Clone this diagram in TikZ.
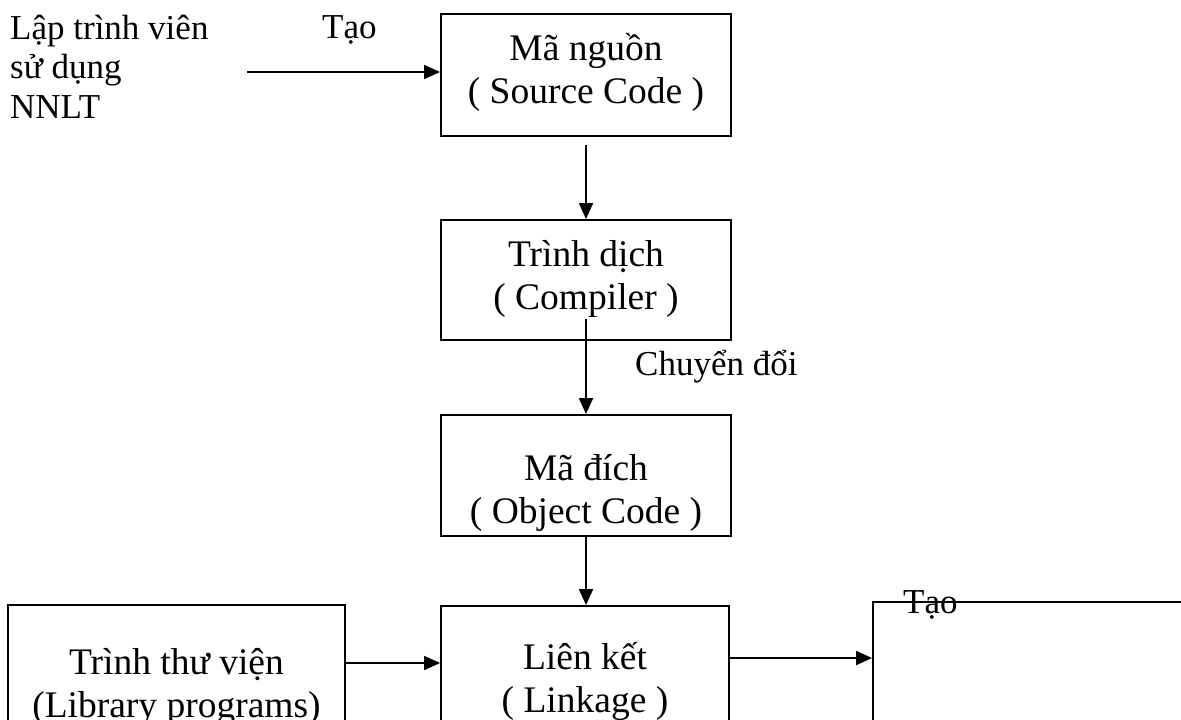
\documentclass[tikz,border=0pt]{standalone}
\usepackage{fontspec}
\setmainfont{Liberation Serif}
\usetikzlibrary{arrows.meta}
\tikzset{
    box/.style = {draw, line width = 1.8pt, align = center, inner sep = 0pt,
        font = \fontsize{37.5}{43}\selectfont},
    lbl/.style = {inner sep = 0pt, font = \fontsize{35}{39.5}\selectfont},
    arr/.style = {-{Triangle[length = 16pt, width = 14pt]}, line width = 1.8pt}
}
\begin{document}
\begin{tikzpicture}[x = 1pt, y = -1pt]
        \clip (0, 0) rectangle (1181, 720);
        % the chain of boxes
        \node [box, minimum width = 290pt, minimum height = 122pt, text height = 60pt, text depth = 4pt] (src) at (586, 75) {Mã nguồn\\( Source Code )};
        \node [box, minimum width = 290pt, minimum height = 120pt, text height = 62pt, text depth = 4pt] (comp) at (586, 280) {Trình dịch\\( Compiler )};
        \node [box, minimum width = 290pt, minimum height = 121pt, text height = 100pt, text depth = 4pt] (obj) at (586, 475.5) {Mã đích\\( Object Code )};
        \node [box, minimum width = 288pt, minimum height = 150pt, text height = 66pt, text depth = 4pt] (link) at (585, 681) {Liên kết\\( Linkage )};
        \node [box, minimum width = 337pt, minimum height = 150pt, text height = 78pt, text depth = 4pt] (lib) at (176.5, 680) {Trình thư viện\\(Library programs)};
        \node [box, minimum width = 400pt, minimum height = 150pt] (out) at (1073, 677) {};
        % free texts
        \node [lbl, anchor = base west, align = left] (dev) at (10, 118) {Lập trình viên\\sử dụng\\NNLT};
        \node [lbl, anchor = base west] (create) at (322, 38) {Tạo};
        \node [lbl, anchor = base west] (convert) at (635, 375) {Chuyển đổi};
        \node [lbl, anchor = base west] (create2) at (903, 613) {Tạo};
        % arrows
        \coordinate (start) at (247, 72);
        \draw [arr] (start) -- (start -| src.west);
        \draw [arr] ([yshift = -8pt] src.south) -- (comp.north);
        \draw [arr] ([yshift = 22pt] comp.south) -- (obj.north);
        \draw [arr] (obj.south) -- (obj.south |- link.north);
        \draw [arr] ([yshift = 17pt] lib.east) -- ([yshift = 17pt] lib.east -| link.west);
        \draw [arr] ([yshift = 23pt] link.east) -- ([yshift = 23pt] link.east -| out.west);
    \end{tikzpicture}
\end{document}
